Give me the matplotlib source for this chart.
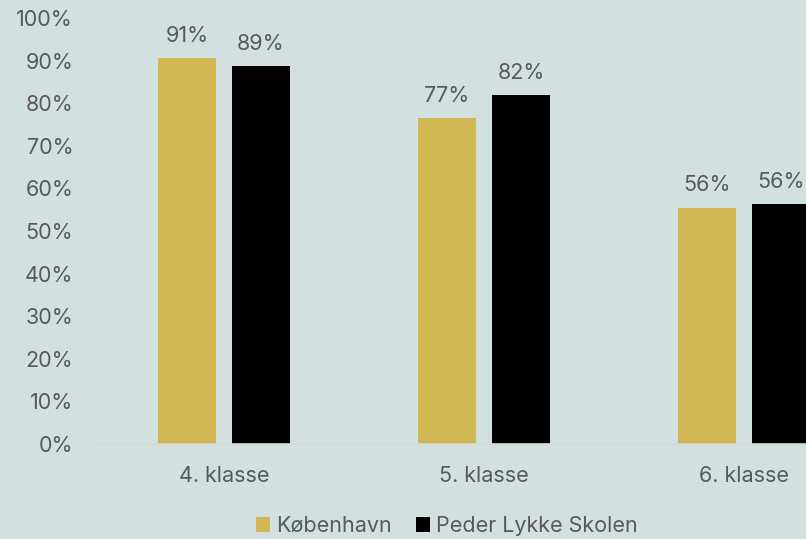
import numpy as np
import matplotlib.pyplot as plt

# data
categories = ['4. klasse', '5. klasse', '6. klasse']
kbh = [0.906, 0.765, 0.554]
pls = [0.887, 0.819, 0.563]
kbh_labels = ['91%', '77%', '56%']
pls_labels = ['89%', '82%', '56%']
series_names = ['København', 'Peder Lykke Skolen']
yticks = np.arange(0, 1.01, 0.1)

bg = '#d3e0e0'
gold = '#d1b753'
txt = '#595959'
fs = 15.5

plt.rcParams['font.family'] = ['Inter', 'DejaVu Sans']

fig = plt.figure(figsize=(8.06, 5.39), dpi=100, facecolor=bg)
# axes: left at 94px, right edge at figure border (chart is cropped on the right)
ax = fig.add_axes([94 / 806, 1 - 444 / 539, 1 - 94 / 806, (444 - 18) / 539])
ax.set_facecolor(bg)

x = np.arange(len(categories))
w = 58 / 260
off = 37 / 260
b1 = ax.bar(x - off, kbh, w, color=gold, label=series_names[0])
b2 = ax.bar(x + off, pls, w, color='black', label=series_names[1])

for rect, lab in zip(b1, kbh_labels):
    ax.annotate(lab, (rect.get_x() + rect.get_width() / 2, rect.get_height()),
                xytext=(0, 9), textcoords='offset points', ha='center', va='bottom',
                fontsize=fs, color=txt)
for rect, lab in zip(b2, pls_labels):
    ax.annotate(lab, (rect.get_x() + rect.get_width() / 2, rect.get_height()),
                xytext=(0, 9), textcoords='offset points', ha='center', va='bottom',
                fontsize=fs, color=txt)

ax.set_ylim(0, 1)
ax.set_xlim(-0.5, 2.5 - 68 / 260)
ax.set_yticks(yticks)
ax.set_yticklabels([f'{int(round(v * 100))}%' for v in yticks])
ax.set_xticks(x)
ax.set_xticklabels(categories)
ax.tick_params(axis='both', length=0, labelsize=fs, labelcolor=txt)
ax.tick_params(axis='x', pad=16)
ax.tick_params(axis='y', pad=15)

for s in ['top', 'right', 'left']:
    ax.spines[s].set_visible(False)
ax.spines['bottom'].set_color('#d9d9d9')
ax.spines['bottom'].set_linewidth(1.2)

leg = fig.legend(loc='center', bbox_to_anchor=(447 / 806, 1 - 526 / 539), ncol=2,
                 frameon=False, fontsize=fs, handlelength=0.65, handleheight=0.65,
                 handletextpad=0.3, columnspacing=1.1, borderpad=0)
for t in leg.get_texts():
    t.set_color(txt)

fig.savefig('out.png', dpi=100, facecolor=bg)
